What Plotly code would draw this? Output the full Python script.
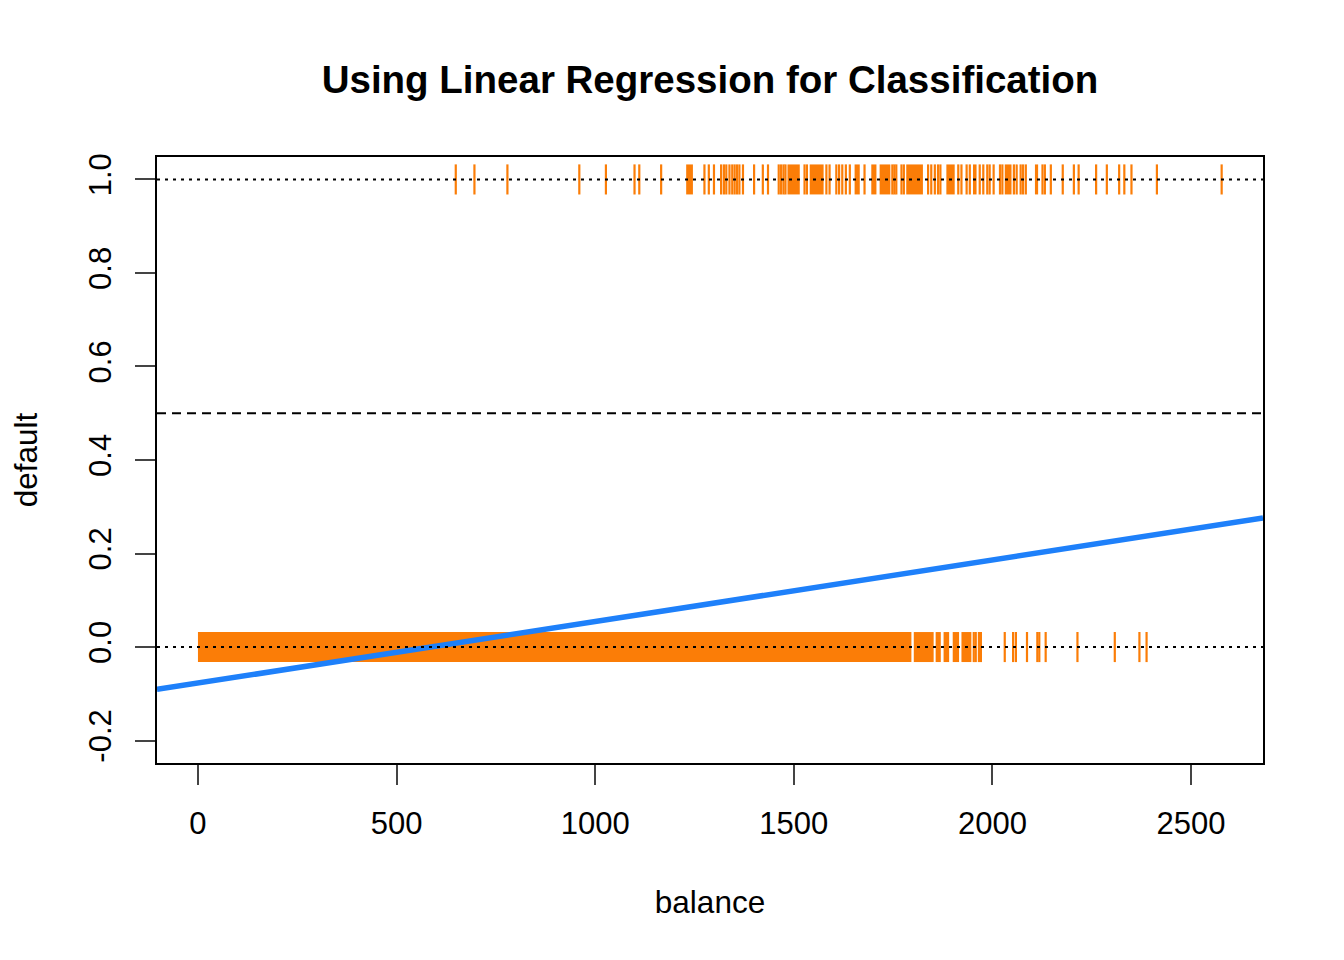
import plotly.graph_objects as go

# Default data read off the chart: balance of each observation, split by default (0 / 1)
# dense stretches where the rug ticks merge into one solid band are kept as [start, end]
no_default_bands = [[0, 1796], [1802, 1852], [1857, 1870], [1877, 1891],
                    [1900, 1916], [1922, 1947]]
no_default_balance = [1953, 1958, 1966, 1971, 2031, 2052, 2059, 2087, 2113,
                      2118, 2134, 2214, 2308, 2370, 2388]

default_bands = [[1229, 1246], [1484, 1515], [1540, 1575], [1653, 1666],
                 [1695, 1708], [1716, 1743], [1783, 1825], [1884, 1905],
                 [1951, 1960], [2031, 2048], [2107, 2115]]
default_balance = [649, 696, 779, 960, 1027, 1099, 1111, 1166, 1275, 1286,
                   1299, 1317, 1324, 1330, 1338, 1345, 1351, 1357, 1363, 1372,
                   1400, 1422, 1435, 1462, 1468, 1474, 1479, 1527, 1533, 1582,
                   1590, 1607, 1614, 1622, 1631, 1641, 1678, 1748, 1753, 1758,
                   1771, 1777, 1838, 1846, 1855, 1863, 1869, 1914, 1922, 1935,
                   1943, 1968, 1977, 1987, 1993, 2003, 2019, 2025, 2054, 2061,
                   2071, 2077, 2084, 2126, 2132, 2147, 2177, 2205, 2217, 2261,
                   2288, 2319, 2332, 2350, 2414, 2577]

# least squares fit of default ~ balance
intercept = -0.0770
slope = 0.0001316

x_range = [-103.1, 2681.1]
y_range = [-0.248, 1.048]
x_ticks = [0, 500, 1000, 1500, 2000, 2500]
y_ticks = [-0.2, 0.0, 0.2, 0.4, 0.6, 0.8, 1.0]
y_ticktext = ["-0.2", "0.0", "0.2", "0.4", "0.6", "0.8", "1.0"]

orange = "#FB7D07"
blue = "#1E80FA"
font = "Liberation Sans, Arial, Helvetica, sans-serif"


def band_xy(bands, level):
    xs, ys = [], []
    for a, b in bands:
        xs += [a, b, None]
        ys += [level, level, None]
    return xs, ys


fig = go.Figure()

# rug bands and single ticks for both classes
for bands, singles, level in [(no_default_bands, no_default_balance, 0),
                              (default_bands, default_balance, 1)]:
    bx, by = band_xy(bands, level)
    fig.add_trace(go.Scatter(x=bx, y=by, mode="lines",
                             line=dict(color=orange, width=30),
                             hoverinfo="skip", showlegend=False))
    fig.add_trace(go.Scatter(x=singles, y=[level] * len(singles), mode="markers",
                             marker=dict(symbol="line-ns", size=21.5,
                                         line=dict(color=orange, width=2.2)),
                             showlegend=False))

# reference lines (abline h = 0, 1 dotted; h = 0.5 dashed)
for level, dash in [(0, "3px,5px"), (1, "3px,5px"), (0.5, "9px,6px")]:
    fig.add_shape(type="line", xref="x domain", x0=0, x1=1, yref="y",
                  y0=level, y1=level, line=dict(color="black", width=2, dash=dash))

# regression line across the whole plot
fit_x = x_range
fit_y = [intercept + slope * v for v in fit_x]
fig.add_trace(go.Scatter(x=fit_x, y=fit_y, mode="lines",
                         line=dict(color=blue, width=5.5), showlegend=False))

fig.update_layout(
    width=1344, height=960,
    margin=dict(l=149, r=89, t=149, b=205),
    plot_bgcolor="white", paper_bgcolor="white",
    font=dict(family=font, size=31, color="black"),
    title=dict(text="<b>Using Linear Regression for Classification</b>",
               x=(710 - 8) / 1344, xanchor="center", yref="container",
               y=1 - 72 / 960, yanchor="middle", font=dict(size=38.5)),
)
fig.update_xaxes(range=x_range, tickvals=x_ticks, ticks="outside", ticklen=20,
                 tickwidth=2, showline=True, linewidth=2, linecolor="black",
                 mirror=True, showgrid=False, zeroline=False,
                 ticklabelstandoff=12,
                 title=dict(text="balance", standoff=51, font=dict(size=31.5)))
fig.update_yaxes(range=y_range, tickvals=y_ticks, ticktext=y_ticktext,
                 ticks="outside", ticklen=20, tickwidth=2, showline=True,
                 linewidth=2, linecolor="black", mirror=True, showgrid=False,
                 zeroline=False, tickangle=-90, ticklabelstandoff=12,
                 title=dict(text="default", standoff=39, font=dict(size=31.5)))

fig.write_html("out.html")
